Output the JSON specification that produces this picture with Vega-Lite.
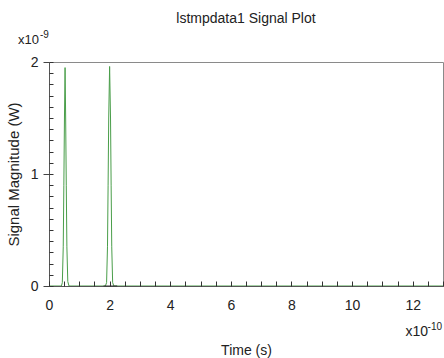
{
  "$schema": "https://vega.github.io/schema/vega-lite/v6.json",
  "width": 394,
  "height": 224,
  "autosize": {"type": "none"},
  "padding": {"left": 49, "top": 62, "right": 1, "bottom": 72},
  "background": "white",
  "config": {
    "font": "Liberation Sans",
    "view": {"stroke": "#8a8a8a", "strokeWidth": 1},
    "axis": {"grid": false, "domainColor": "#555", "tickColor": "#444", "labelColor": "#222", "titleColor": "#222", "labelFont": "Liberation Sans", "titleFont": "Liberation Sans", "labelFontSize": 14, "titleFontSize": 14, "titleFontWeight": "normal"}
  },
  "title": {"text": "lstmpdata1 Signal Plot", "frame": "group", "anchor": "middle", "fontSize": 14, "fontWeight": "normal", "color": "#222", "font": "Liberation Sans", "offset": 4},
  "datasets": {
    "signal": [
      {"t": 0, "p": 0},
      {"t": 0.41, "p": 0},
      {"t": 0.44, "p": 0.03},
      {"t": 0.47, "p": 0.35},
      {"t": 0.49, "p": 0.9},
      {"t": 0.51, "p": 1.5},
      {"t": 0.53, "p": 1.95},
      {"t": 0.55, "p": 1.5},
      {"t": 0.57, "p": 0.9},
      {"t": 0.59, "p": 0.35},
      {"t": 0.62, "p": 0.04},
      {"t": 0.66, "p": 0},
      {"t": 1.86, "p": 0},
      {"t": 1.9, "p": 0.03},
      {"t": 1.93, "p": 0.35},
      {"t": 1.95, "p": 0.9},
      {"t": 1.97, "p": 1.5},
      {"t": 2.0, "p": 1.96},
      {"t": 2.03, "p": 1.5},
      {"t": 2.05, "p": 0.9},
      {"t": 2.07, "p": 0.35},
      {"t": 2.1, "p": 0.03},
      {"t": 2.14, "p": 0},
      {"t": 13, "p": 0}
    ],
    "base": [
      {"t": 1.8, "p": 0},
      {"t": 2.25, "p": 0}
    ],
    "one": [{}]
  },
  "layer": [
    {
      "data": {"name": "signal"},
      "mark": {"type": "line", "color": "#4a9e4a", "strokeWidth": 1, "clip": true},
      "encoding": {
        "x": {
          "field": "t", "type": "quantitative",
          "scale": {"domain": [0, 13], "nice": false, "zero": false},
          "axis": {
            "orient": "bottom",
            "values": [0, 2, 4, 6, 8, 10, 12],
            "labelExpr": "format(datum.value, 'd')",
            "ticks": false,
            "labelPadding": 12,
            "labelFlush": false,
            "labelOverlap": false,
            "title": "Time (s)",
            "titlePadding": 31
          }
        },
        "y": {
          "field": "p", "type": "quantitative",
          "scale": {"domain": [0, 2], "nice": false},
          "axis": {
            "orient": "left",
            "values": [0, 1, 2],
            "labelExpr": "format(datum.value, 'd')",
            "tickSize": 6,
            "labelPadding": 5,
            "labelOverlap": false,
            "labelFlush": false,
            "title": "Signal Magnitude (W)",
            "titleFontSize": 15,
            "titlePadding": 9
          }
        }
      }
    },
    {
      "data": {"name": "base"},
      "mark": {"type": "line", "color": "#333", "strokeWidth": 1},
      "encoding": {
        "x": {
          "field": "t", "type": "quantitative",
          "axis": {
            "orient": "top",
            "offset": -224,
            "values": [0, 0.5, 1, 1.5, 2, 2.5, 3, 3.5, 4, 4.5, 5, 5.5, 6, 6.5, 7, 7.5, 8, 8.5, 9, 9.5, 10, 10.5, 11, 11.5, 12, 12.5, 13],
            "ticks": true,
            "tickSize": 5,
            "tickWidth": 1,
            "tickColor": "#333",
            "labels": false,
            "domain": false,
            "title": null,
            "zindex": 2
          }
        },
        "y": {
          "field": "p", "type": "quantitative",
          "axis": {
            "orient": "right",
            "offset": -394,
            "values": [0, 0.1, 0.2, 0.3, 0.4, 0.5, 0.6, 0.7, 0.8, 0.9, 1, 1.1, 1.2, 1.3, 1.4, 1.5, 1.6, 1.7, 1.8, 1.9, 2],
            "ticks": true,
            "tickSize": 4,
            "tickWidth": 1,
            "tickColor": "#333",
            "labels": false,
            "domain": false,
            "title": null,
            "zindex": 2
          }
        }
      }
    },
    {
      "data": {"name": "one"},
      "mark": {"type": "text", "text": "x10", "align": "left", "baseline": "alphabetic", "dx": -31, "dy": -18, "fontSize": 13, "color": "#222"},
      "encoding": {"x": {"datum": 0, "axis": null}, "y": {"datum": 2, "axis": null}}
    },
    {
      "data": {"name": "one"},
      "mark": {"type": "text", "text": "-9", "align": "left", "baseline": "alphabetic", "dx": -9, "dy": -24, "fontSize": 10, "color": "#222"},
      "encoding": {"x": {"datum": 0, "axis": null}, "y": {"datum": 2, "axis": null}}
    },
    {
      "data": {"name": "one"},
      "mark": {"type": "text", "text": "x10", "align": "right", "baseline": "alphabetic", "dx": -15, "dy": 50, "fontSize": 14, "color": "#222"},
      "encoding": {"x": {"datum": 13, "axis": null}, "y": {"datum": 0, "axis": null}}
    },
    {
      "data": {"name": "one"},
      "mark": {"type": "text", "text": "-10", "align": "right", "baseline": "alphabetic", "dx": -1, "dy": 44, "fontSize": 10, "color": "#222"},
      "encoding": {"x": {"datum": 13, "axis": null}, "y": {"datum": 0, "axis": null}}
    }
  ],
  "resolve": {"axis": {"x": "independent", "y": "independent"}}
}
